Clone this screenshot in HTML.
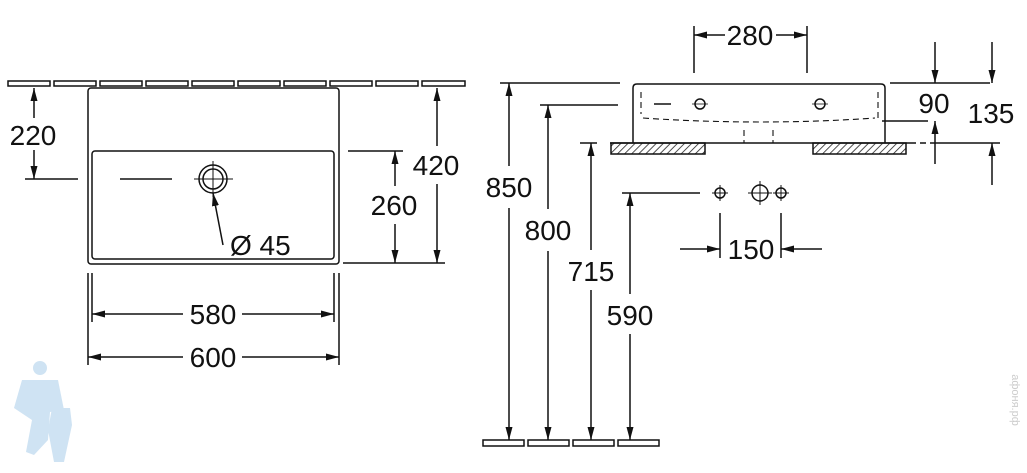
<!DOCTYPE html>
<html><head><meta charset="utf-8"><style>
html,body{margin:0;padding:0;background:#fff;}
svg{display:block;}
text{font-family:"Liberation Sans",Arial,sans-serif;font-size:28px;fill:#111;}
</style></head><body>
<svg width="1027" height="473" viewBox="0 0 1027 473" xmlns="http://www.w3.org/2000/svg">
<defs>
<marker id="a" markerUnits="userSpaceOnUse" markerWidth="14" markerHeight="10" refX="13" refY="5" orient="auto"><path d="M0,1.5 L13,5 L0,8.5 Z" fill="#111"/></marker>
<pattern id="h" patternUnits="userSpaceOnUse" width="5" height="5" patternTransform="rotate(45)"><line x1="0" y1="0" x2="0" y2="5" stroke="#222" stroke-width="1.6"/></pattern>
</defs>
<g stroke="#111" stroke-width="1.5" fill="none">
<g fill="#fff">
<rect x="8" y="81" width="42" height="5"/><rect x="54" y="81" width="42" height="5"/><rect x="100" y="81" width="42" height="5"/><rect x="146" y="81" width="42" height="5"/><rect x="192" y="81" width="42" height="5"/><rect x="238" y="81" width="42" height="5"/><rect x="284" y="81" width="42" height="5"/><rect x="330" y="81" width="42" height="5"/><rect x="376" y="81" width="42" height="5"/><rect x="422" y="81" width="43" height="5"/>
</g>
<rect x="88" y="88" width="251" height="176" rx="3"/>
<rect x="92" y="151" width="242" height="108" rx="3"/>
<circle cx="213" cy="179" r="14"/><circle cx="213" cy="179" r="10"/>
<line x1="194" y1="179" x2="233" y2="179" stroke-width="1"/><line x1="213" y1="161" x2="213" y2="197" stroke-width="1"/>
<line x1="25" y1="179" x2="78" y2="179"/><line x1="120" y1="179" x2="172" y2="179"/>
<line x1="223" y1="245" x2="213" y2="193" marker-end="url(#a)"/>
<line x1="34" y1="118" x2="34" y2="88" marker-end="url(#a)"/><line x1="34" y1="150" x2="34" y2="179" marker-end="url(#a)"/>
<line x1="437" y1="146" x2="437" y2="88" marker-end="url(#a)"/><line x1="437" y1="184" x2="437" y2="263" marker-end="url(#a)"/>
<line x1="348" y1="151" x2="403" y2="151"/><line x1="343" y1="263" x2="445" y2="263"/>
<line x1="395" y1="186" x2="395" y2="151" marker-end="url(#a)"/><line x1="395" y1="224" x2="395" y2="263" marker-end="url(#a)"/>
<line x1="92" y1="273" x2="92" y2="322"/><line x1="334" y1="273" x2="334" y2="322"/>
<line x1="88" y1="273" x2="88" y2="365"/><line x1="339" y1="273" x2="339" y2="365"/>
<line x1="183" y1="314" x2="92" y2="314" marker-end="url(#a)"/><line x1="242" y1="314" x2="334" y2="314" marker-end="url(#a)"/>
<line x1="183" y1="357" x2="88" y2="357" marker-end="url(#a)"/><line x1="242" y1="357" x2="339" y2="357" marker-end="url(#a)"/>

<path d="M633,143 L633,88 Q633,84 637,84 L881,84 Q885,84 885,88 L885,143"/>
<line x1="610" y1="143" x2="910" y2="143"/>
<rect x="611" y="143" width="94" height="11" fill="url(#h)"/>
<rect x="813" y="143" width="93" height="11" fill="url(#h)"/>
<line x1="910" y1="143" x2="930" y2="143" stroke-dasharray="6 4"/>
<g stroke-dasharray="6 4" stroke-width="1.1">
<line x1="641" y1="92" x2="641" y2="114"/><line x1="878" y1="92" x2="878" y2="118"/>
<path d="M643,118 Q760,126 875,118"/>
<line x1="744" y1="130" x2="744" y2="143"/><line x1="773" y1="130" x2="773" y2="143"/>
</g>
<line x1="654" y1="104" x2="671" y2="104"/>
<circle cx="700" cy="104" r="5"/><circle cx="820" cy="104" r="5"/>
<line x1="692" y1="104" x2="708" y2="104" stroke-width="0.8"/><line x1="812" y1="104" x2="828" y2="104" stroke-width="0.8"/>
<line x1="694" y1="26" x2="694" y2="73"/><line x1="807" y1="26" x2="807" y2="73"/>
<line x1="725" y1="35" x2="694" y2="35" marker-end="url(#a)"/><line x1="776" y1="35" x2="807" y2="35" marker-end="url(#a)"/>
<line x1="890" y1="83" x2="990" y2="83"/><line x1="882" y1="121" x2="928" y2="121"/><line x1="930" y1="143" x2="1000" y2="143"/>
<line x1="935" y1="42" x2="935" y2="83" marker-end="url(#a)"/><line x1="935" y1="164" x2="935" y2="121" marker-end="url(#a)"/>
<line x1="992" y1="42" x2="992" y2="83" marker-end="url(#a)"/><line x1="992" y1="185" x2="992" y2="143" marker-end="url(#a)"/>
<line x1="500" y1="83" x2="620" y2="83"/><line x1="540" y1="105" x2="618" y2="105"/><line x1="580" y1="143" x2="597" y2="143"/><line x1="622" y1="193" x2="700" y2="193"/>
<line x1="509" y1="166" x2="509" y2="83" marker-end="url(#a)"/><line x1="509" y1="208" x2="509" y2="440" marker-end="url(#a)"/>
<line x1="548" y1="209" x2="548" y2="105" marker-end="url(#a)"/><line x1="548" y1="251" x2="548" y2="440" marker-end="url(#a)"/>
<line x1="591" y1="250" x2="591" y2="143" marker-end="url(#a)"/><line x1="591" y1="290" x2="591" y2="440" marker-end="url(#a)"/>
<line x1="630" y1="294" x2="630" y2="193" marker-end="url(#a)"/><line x1="630" y1="334" x2="630" y2="440" marker-end="url(#a)"/>
<g fill="#fff"><rect x="483" y="440" width="41" height="6"/><rect x="528" y="440" width="41" height="6"/><rect x="573" y="440" width="41" height="6"/><rect x="618" y="440" width="41" height="6"/></g>
<circle cx="720" cy="193" r="5"/><line x1="712" y1="193" x2="728" y2="193" stroke-width="1"/><line x1="720" y1="185" x2="720" y2="201" stroke-width="1"/>
<circle cx="760" cy="193" r="8"/><line x1="748" y1="193" x2="772" y2="193" stroke-width="1"/><line x1="760" y1="181" x2="760" y2="205" stroke-width="1"/>
<circle cx="781" cy="193" r="5"/><line x1="773" y1="193" x2="789" y2="193" stroke-width="1"/><line x1="781" y1="185" x2="781" y2="201" stroke-width="1"/>
<line x1="720" y1="213" x2="720" y2="258"/><line x1="781" y1="213" x2="781" y2="258"/>
<line x1="680" y1="249" x2="720" y2="249" marker-end="url(#a)"/><line x1="822" y1="249" x2="781" y2="249" marker-end="url(#a)"/>
</g>
<text x="33" y="145" text-anchor="middle">220</text>
<text x="436" y="175" text-anchor="middle">420</text>
<text x="394" y="215" text-anchor="middle">260</text>
<text x="230" y="255">Ø 45</text>
<text x="213" y="324" text-anchor="middle">580</text>
<text x="213" y="367" text-anchor="middle">600</text>
<text x="750" y="45" text-anchor="middle">280</text>
<text x="934" y="113" text-anchor="middle">90</text>
<text x="991" y="123" text-anchor="middle">135</text>
<text x="509" y="197" text-anchor="middle">850</text>
<text x="548" y="240" text-anchor="middle">800</text>
<text x="591" y="281" text-anchor="middle">715</text>
<text x="630" y="325" text-anchor="middle">590</text>
<text x="751" y="259" text-anchor="middle">150</text>
<text x="1012" y="400" transform="rotate(90 1012 400)" text-anchor="middle" style="font-size:11px;fill:#ccc">афоня.рф</text>
<g fill="#cfe3f3">
<circle cx="40" cy="368" r="7"/><path d="M22,380 L58,380 L64,410 L50,412 L48,440 L34,455 L26,452 L32,420 L14,408 Z"/>
<path d="M52,408 L70,408 L72,425 L64,462 L54,462 L48,430 Z"/>
</g>
</svg>
</body></html>
